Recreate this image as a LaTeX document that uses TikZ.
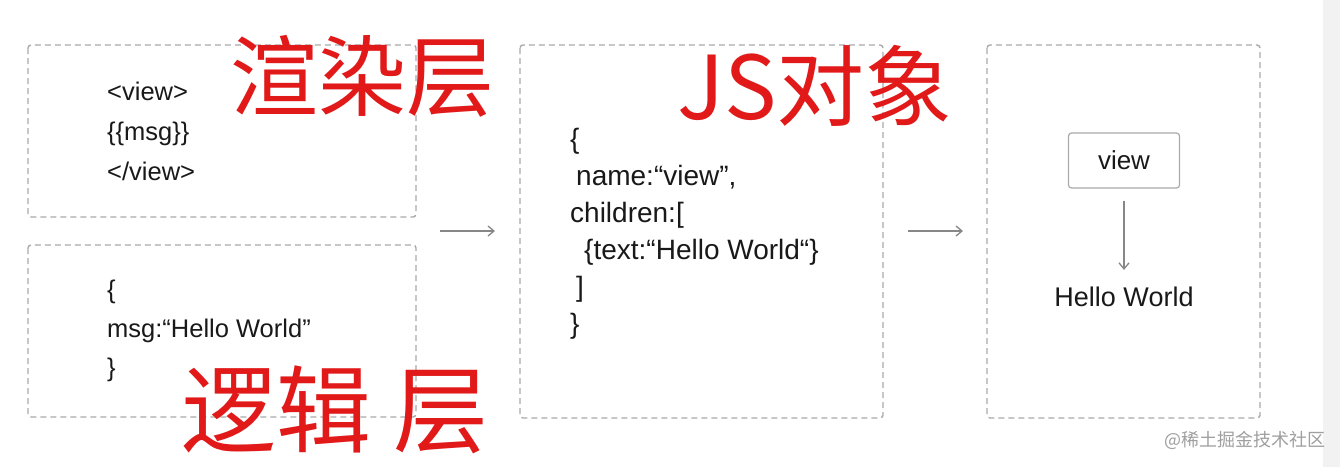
\documentclass[tikz,border=0pt]{standalone}
\usepackage{fontspec}
\setmainfont{Liberation Sans}
\newfontfamily\cjk{Noto Sans CJK SC}
\usetikzlibrary{arrows.meta}
\definecolor{boxgray}{RGB}{170,170,170}
\definecolor{arrgray}{RGB}{135,135,135}
\definecolor{txt}{RGB}{25,25,25}
\definecolor{hand}{RGB}{225,25,25}
\definecolor{strip}{RGB}{242,242,242}
\begin{document}
\begin{tikzpicture}[x=1pt,y=-1pt,
  dbox/.style={draw=boxgray, line width=1.4pt, dash pattern=on 6pt off 4pt, rounded corners=3pt},
  code/.style={font=\fontsize{25.5}{40}\selectfont, text=txt, align=left, inner sep=0pt, anchor=west},
  flow/.style={draw=arrgray, line width=1.3pt, -{Straight Barb[length=6pt,width=10pt,line width=1.3pt]}},
  handtext/.style={font=\cjk\fontsize{88}{90}\selectfont, text=hand, inner sep=0pt}
]
\useasboundingbox (0,0) rectangle (1340,467);
\fill[white] (0,0) rectangle (1340,467);
\fill[strip] (1323,0) rectangle (1340,467);

% dashed boxes
\draw[dbox] (28,45) rectangle (416,217);
\draw[dbox] (28,245) rectangle (416,417);
\draw[dbox] (520,45) rectangle (883,418);
\draw[dbox] (987,45) rectangle (1260,418);

% code texts
\node[code] (tpl) at (107,131) {<view>\\\{\{msg\}\}\\</view>};
\node[code, font=\fontsize{25.5}{39}\selectfont] (data) at (107,331) {\{\\msg:“Hello World”\\\}};
\node[code, font=\fontsize{28}{37}\selectfont] (obj) at (570,234) {\{\\\hspace*{6pt}name:“view”,\\children:[\\\hspace*{14pt}\{text:“Hello World“\}\\\hspace*{6pt}]\\\}};

% arrows between columns
\coordinate (a1s) at (440,231);
\coordinate (a1e) at (495,231);
\coordinate (a2s) at (908,231);
\coordinate (a2e) at (963,231);
\draw[flow] (a1s) -- (a1e);
\draw[flow] (a2s) -- (a2e);

% right rendering
\node[draw=boxgray, line width=1.2pt, rounded corners=3pt, minimum width=111pt, minimum height=55pt,
      font=\fontsize{26}{28}\selectfont, text=txt] (view) at (1124,160.5) {view};
\node[font=\fontsize{27}{30}\selectfont, text=txt, inner sep=0pt] (hello) at (1124,297) {Hello World};
\draw[flow, shorten <=12pt, shorten >=17pt] (view.south) -- (hello.north);

% handwritten annotations
\node[handtext] (render) at (362,76) {渲染层};
\node[handtext] (jsobj) at (815,86) {JS对象};
\node[handtext, font=\cjk\fontsize{95}{96}\selectfont] (logic) at (335,410) {逻辑\hspace{22pt}层};

% watermark
\node[font=\cjk\fontsize{18}{20}\selectfont, text=gray!75, inner sep=0pt] (wm) at (1245,440) {@稀土掘金技术社区};
\end{tikzpicture}
\end{document}
